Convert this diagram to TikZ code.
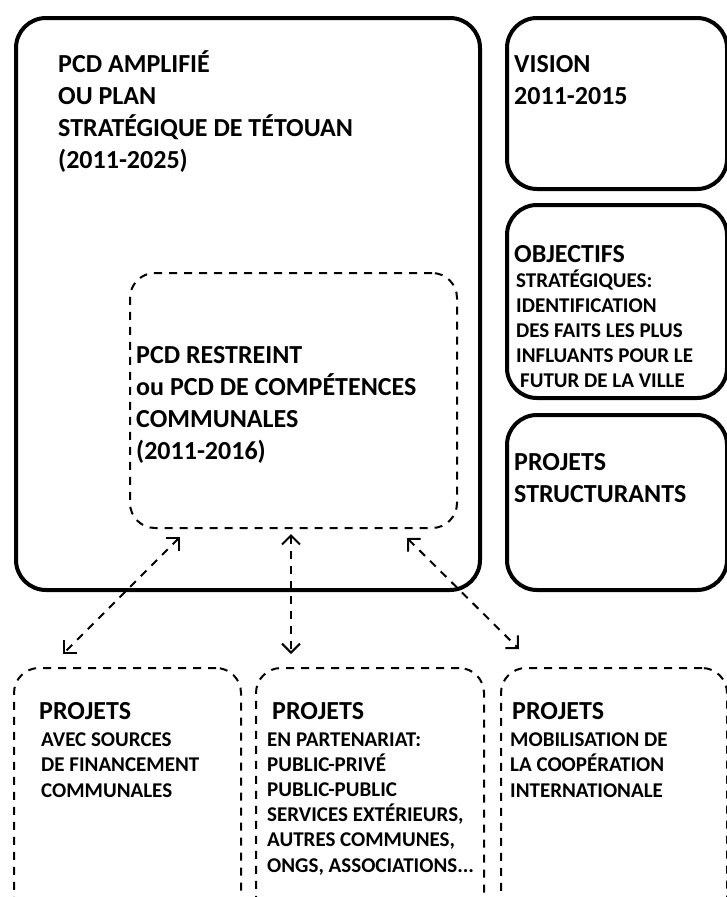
\documentclass[tikz,border=0pt]{standalone}
\usepackage{fontspec}
\setmainfont{Carlito}
\usetikzlibrary{arrows.meta}
\tikzset{
  every picture/.style={line join=round, >={Straight Barb[length=9pt,width=18pt]}},
  boite/.style={draw, line width=4pt, rounded corners=30pt, anchor=north west},
  tiret/.style={draw, line width=2pt, dash pattern=on 8pt off 7pt, rounded corners=25pt, anchor=north west},
  grand/.style={font=\bfseries\fontsize{26}{32}\selectfont, align=left, inner sep=0pt, anchor=base west},
  petit/.style={font=\bfseries\fontsize{21}{25.2}\selectfont, align=left, inner sep=0pt, anchor=base west},
  moyen/.style={font=\bfseries\fontsize{21}{25}\selectfont, align=left, inner sep=0pt, anchor=base west},
  fleche/.style={<->, line width=2pt, dash pattern=on 8pt off 7pt},
}
\begin{document}
\begin{tikzpicture}[x=1pt,y=-1pt]
\useasboundingbox (0,0) rectangle (727,897);
\clip (0,0) rectangle (727,897);
% cadres
\node[boite, minimum width=464pt, minimum height=572pt] (amplifie) at (14,16) {};
\node[boite, minimum width=220pt, minimum height=171pt] (vision) at (505,16) {};
\node[boite, minimum width=220pt, minimum height=193pt] (objectifs) at (505,203) {};
\node[boite, minimum width=220pt, minimum height=175pt] (structurants) at (505,413) {};
\node[tiret, minimum width=327pt, minimum height=255pt] (restreint) at (129,272) {};
\foreach \nom/\x/\w in {financement/13/227, partenariat/255/228, cooperation/500/226}
  \node[tiret, minimum width=\w pt, minimum height=258pt] (\nom) at (\x,667) {};
% textes (ancre = ligne de base de la derniere ligne)
\node[grand] (t-amplifie) at (58,168) {PCD AMPLIFIÉ\\OU PLAN\\STRATÉGIQUE DE TÉTOUAN\\(2011-2025)};
\node[grand] (t-vision) at (514,104) {VISION\\2011-2015};
\node[grand] (t-objectifs) at (514,262) {OBJECTIFS};
\node[moyen] (t-strategiques) at (516,387) {STRATÉGIQUES:\\IDENTIFICATION\\DES FAITS LES PLUS\\INFLUANTS POUR LE\\\hspace{4pt}FUTUR DE LA VILLE};
\node[grand] (t-structurants) at (514,502) {PROJETS\\STRUCTURANTS};
\node[grand] (t-restreint) at (136,459) {PCD RESTREINT\\ou PCD DE COMPÉTENCES\\COMMUNALES\\(2011-2016)};
\node[grand] (t-financement) at (39,719) {PROJETS};
\node[petit] (s-financement) at (41,797) {AVEC SOURCES\\DE FINANCEMENT\\COMMUNALES};
\node[grand] (t-partenariat) at (272,719) {PROJETS};
\node[petit] (s-partenariat) at (267,872) {EN PARTENARIAT:\\PUBLIC-PRIVÉ\\PUBLIC-PUBLIC\\SERVICES EXTÉRIEURS,\\AUTRES COMMUNES,\\ONGS, ASSOCIATIONS...};
\node[grand] (t-cooperation) at (512,719) {PROJETS};
\node[petit] (s-cooperation) at (510,797) {MOBILISATION DE\\LA COOPÉRATION\\INTERNATIONALE};
% fleches
\coordinate (g1) at (180,537); \coordinate (g2) at (63,654);
\coordinate (m1) at (291,534); \coordinate (m2) at (291,654);
\coordinate (d1) at (407,538); \coordinate (d2) at (519,649);
\draw[fleche] (g1) -- (g2);
\draw[fleche] (m1) -- (m2);
\draw[fleche] (d1) -- (d2);
\end{tikzpicture}
\end{document}
